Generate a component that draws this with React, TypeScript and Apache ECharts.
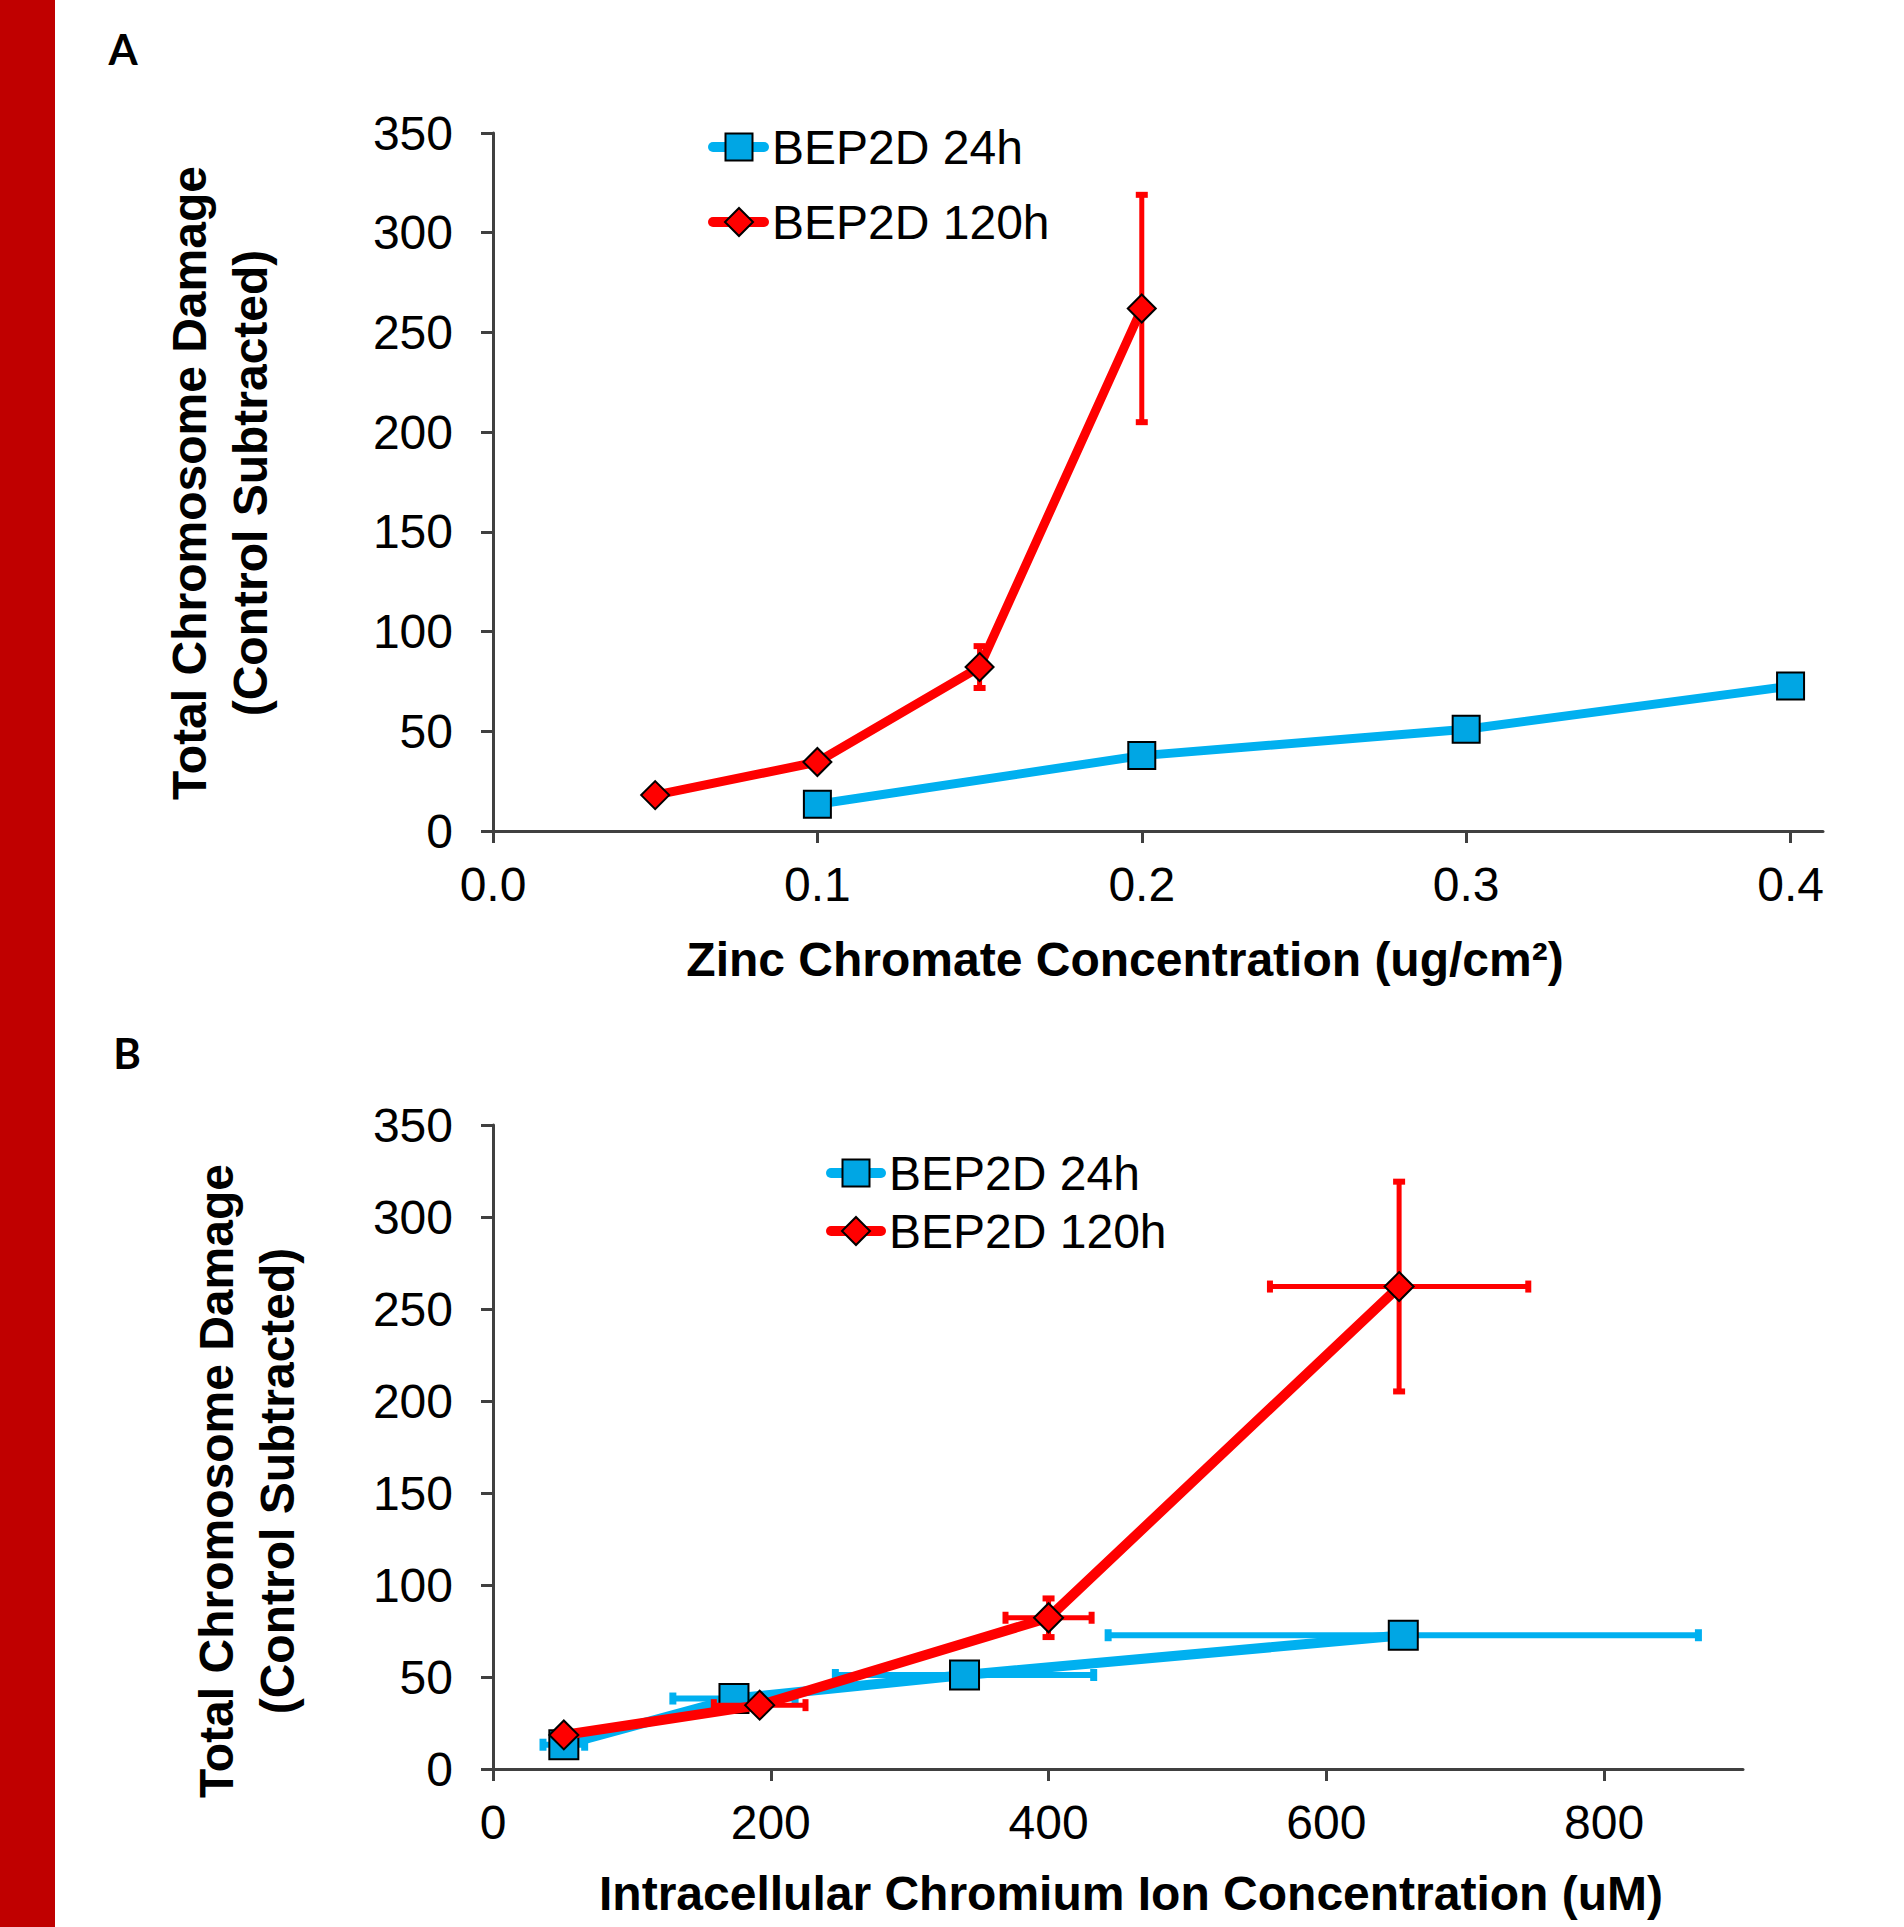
import React, { useEffect, useRef } from "react";
import * as echarts from "echarts";

// ---------- data ----------
const SERIES_24H = "BEP2D 24h";
const SERIES_120H = "BEP2D 120h";

const yTicks = [0, 50, 100, 150, 200, 250, 300, 350];
const xTicksA = [0, 0.1, 0.2, 0.3, 0.4];
const xTicksB = [0, 200, 400, 600, 800];

// Panel A: Zinc chromate concentration (ug/cm2)
const zincBlueX = [0.1, 0.2, 0.3, 0.4];
const zincBlueY = [13.4, 37.8, 51.0, 72.7];
const zincRedX = [0.05, 0.1, 0.15, 0.2];
const zincRedY = [18.0, 34.6, 82.2, 262.0];
const zincRedYErr = [0, 3, 10.5, 57];

// Panel B: Intracellular chromium ion concentration (uM)
const ionBlueX = [51, 173.5, 339.5, 655.4];
const ionBlueY = [13.2, 38.3, 51.1, 72.7];
const ionBlueXErr = [15, 44, 93, 212.5];
const ionRedX = [51, 192, 400, 652.4];
const ionRedY = [18.5, 34.7, 82.2, 262.2];
const ionRedXErr = [0, 33, 31, 93];
const ionRedYErr = [0, 3, 10.5, 57];

// ---------- styles ----------
const BLUE = "#00B0F0";
const BLUE_MARK = "#00A6E4";
const RED = "#FF0000";
const AXIS = "#404040";
const FONT = "Liberation Sans, Arial, sans-serif";
const FS = 48;

function zip(xs: number[], ys: number[]) {
  return xs.map((x, i) => [x, ys[i]]);
}

function errData(xs: number[], ys: number[], exs: number[] | null, eys: number[] | null) {
  return xs.map((x, i) => [x, ys[i], exs ? exs[i] : 0, eys ? eys[i] : 0]);
}

function errRender(color: string, lw: number, cap: number) {
  return (params: any, api: any) => {
    const x = api.value(0);
    const y = api.value(1);
    const ex = api.value(2);
    const ey = api.value(3);
    const children: any[] = [];
    const st = { stroke: color, lineWidth: lw, lineCap: "butt" };
    const capSt = { stroke: color, lineWidth: lw + 1, lineCap: "butt" };
    if (ey > 0) {
      const t = api.coord([x, y + ey]);
      const b = api.coord([x, y - ey]);
      children.push({ type: "line", shape: { x1: t[0], y1: t[1], x2: b[0], y2: b[1] }, style: st });
      children.push({ type: "line", shape: { x1: t[0] - cap / 2, y1: t[1], x2: t[0] + cap / 2, y2: t[1] }, style: capSt });
      children.push({ type: "line", shape: { x1: b[0] - cap / 2, y1: b[1], x2: b[0] + cap / 2, y2: b[1] }, style: capSt });
    }
    if (ex > 0) {
      const l = api.coord([x - ex, y]);
      const r = api.coord([x + ex, y]);
      children.push({ type: "line", shape: { x1: l[0], y1: l[1], x2: r[0], y2: r[1] }, style: st });
      children.push({ type: "line", shape: { x1: l[0], y1: l[1] - cap / 2, x2: l[0], y2: l[1] + cap / 2 }, style: capSt });
      children.push({ type: "line", shape: { x1: r[0], y1: r[1] - cap / 2, x2: r[0], y2: r[1] + cap / 2 }, style: capSt });
    }
    return { type: "group", children };
  };
}

function yAxisCfg(gridIndex: number) {
  return {
    type: "value",
    gridIndex,
    min: yTicks[0],
    max: yTicks[yTicks.length - 1],
    interval: 50,
    splitLine: { show: false },
    axisLine: { show: true, lineStyle: { color: AXIS, width: 3 } },
    axisTick: { show: true, inside: false, length: 12, lineStyle: { color: AXIS, width: 3 } },
    axisLabel: { color: "#000", fontSize: FS, fontFamily: FONT, margin: 40 },
  };
}

function xAxisCfg(gridIndex: number, max: number, ticks: number[], fmt: (v: number) => string) {
  return {
    type: "value",
    gridIndex,
    min: 0,
    max,
    splitLine: { show: false },
    axisLine: { show: true, onZero: false, lineStyle: { color: AXIS, width: 3 } },
    axisTick: { show: true, inside: false, length: 12, customValues: ticks, lineStyle: { color: AXIS, width: 3 } },
    axisLabel: {
      color: "#000",
      fontSize: FS,
      fontFamily: FONT,
      margin: 29,
      customValues: ticks,
      formatter: (v: number) => fmt(v),
    },
  };
}

function lineSeries(name: string, xi: number, yi: number, data: number[][], color: string, markColor: string, symbol: string, size: number, lw: number, z: number) {
  return {
    type: "line",
    name,
    xAxisIndex: xi,
    yAxisIndex: yi,
    data,
    z,
    symbol,
    symbolSize: size,
    showSymbol: true,
    lineStyle: { color, width: lw, cap: "round", join: "round" },
    itemStyle: { color: markColor, borderColor: "#000", borderWidth: 2 },
    emphasis: { disabled: true },
  };
}

// Legend entry drawn as graphic: line with round caps, marker, label
function legendEntry(x0: number, x1: number, cy: number, mx: number, tx: number, color: string, markColor: string, kind: "square" | "diamond", label: string) {
  const h = 13.5;
  const marker =
    kind === "square"
      ? { type: "rect", shape: { x: mx - h, y: cy - h, width: 2 * h, height: 2 * h }, style: { fill: markColor, stroke: "#000", lineWidth: 2 } }
      : {
          type: "polygon",
          shape: { points: [[mx, cy - 14], [mx + 14, cy], [mx, cy + 14], [mx - 14, cy]] },
          style: { fill: markColor, stroke: "#000", lineWidth: 2 },
        };
  return [
    { type: "line", shape: { x1: x0, y1: cy, x2: x1, y2: cy }, style: { stroke: color, lineWidth: 10, lineCap: "round" } },
    marker,
    { type: "text", x: tx, y: cy, style: { text: label, font: `${FS}px ${FONT}`, fill: "#000", textAlign: "left", textVerticalAlign: "middle" } },
  ];
}

export default function App() {
  const ref = useRef<HTMLDivElement>(null);

  useEffect(() => {
    if (!ref.current) return;
    const chart = echarts.init(ref.current, null, { renderer: "svg" });

    const yTitle = "Total Chromosome Damage\n(Control Subtracted)";

    const option: any = {
      animation: false,
      backgroundColor: "#fff",
      grid: [
        { left: 493, top: 133, width: 1330, height: 698, containLabel: false },
        { left: 493, top: 1125, width: 1250, height: 644, containLabel: false },
      ],
      xAxis: [
        xAxisCfg(0, 0.41, xTicksA, (v) => v.toFixed(1)),
        xAxisCfg(1, 900, xTicksB, (v) => String(Math.round(v))),
      ],
      yAxis: [yAxisCfg(0), yAxisCfg(1)],
      graphic: [
        { type: "rect", shape: { x: 0, y: 0, width: 55, height: 1927 }, style: { fill: "#C00000" }, silent: true },
        { type: "text", x: 123, y: 49, style: { text: "A", font: "bold 42px Lato, sans-serif", fill: "#000", textAlign: "center", textVerticalAlign: "middle" } },
        { type: "text", x: 127, y: 1053, style: { text: "B", font: "bold 42px Lato, sans-serif", fill: "#000", textAlign: "center", textVerticalAlign: "middle" } },
        {
          type: "text", x: 220, y: 483, rotation: Math.PI / 2,
          style: { text: yTitle, font: `bold ${FS}px ${FONT}`, lineHeight: 61, fill: "#000", textAlign: "center", textVerticalAlign: "middle" },
        },
        {
          type: "text", x: 247, y: 1481, rotation: Math.PI / 2,
          style: { text: yTitle, font: `bold ${FS}px ${FONT}`, lineHeight: 61, fill: "#000", textAlign: "center", textVerticalAlign: "middle" },
        },
        { type: "text", x: 1125, y: 959, style: { text: "Zinc Chromate Concentration (ug/cm²)", font: `bold ${FS}px ${FONT}`, fill: "#000", textAlign: "center", textVerticalAlign: "middle" } },
        { type: "text", x: 1131, y: 1893, style: { text: "Intracellular Chromium Ion Concentration (uM)", font: `bold ${FS}px ${FONT}`, fill: "#000", textAlign: "center", textVerticalAlign: "middle" } },
        // Legend A
        ...legendEntry(713, 764, 147, 739, 772, BLUE, BLUE_MARK, "square", SERIES_24H),
        ...legendEntry(713, 764, 222, 739, 772, RED, RED, "diamond", SERIES_120H),
        // Legend B
        ...legendEntry(831, 881, 1173, 856, 889, BLUE, BLUE_MARK, "square", SERIES_24H),
        ...legendEntry(831, 881, 1231, 856, 889, RED, RED, "diamond", SERIES_120H),
      ],
      series: [
        // Panel A
        lineSeries(SERIES_24H, 0, 0, zip(zincBlueX, zincBlueY), BLUE, BLUE_MARK, "rect", 27, 9, 3),
        {
          type: "custom", xAxisIndex: 0, yAxisIndex: 0, z: 4,
          data: errData(zincRedX, zincRedY, null, zincRedYErr),
          renderItem: errRender(RED, 5, 12), silent: true,
        },
        lineSeries(SERIES_120H, 0, 0, zip(zincRedX, zincRedY), RED, RED, "diamond", 28, 9, 5),
        // Panel B
        {
          type: "custom", xAxisIndex: 1, yAxisIndex: 1, z: 2,
          data: errData(ionBlueX, ionBlueY, ionBlueXErr, null),
          renderItem: errRender(BLUE, 6, 12), silent: true,
        },
        lineSeries(SERIES_24H, 1, 1, zip(ionBlueX, ionBlueY), BLUE, BLUE_MARK, "rect", 29, 10, 3),
        {
          type: "custom", xAxisIndex: 1, yAxisIndex: 1, z: 4,
          data: errData(ionRedX, ionRedY, ionRedXErr, ionRedYErr),
          renderItem: errRender(RED, 5, 12), silent: true,
        },
        lineSeries(SERIES_120H, 1, 1, zip(ionRedX, ionRedY), RED, RED, "diamond", 29, 10, 5),
      ],
    };

    chart.setOption(option);
    return () => chart.dispose();
  }, []);

  return (
    <div
      ref={ref}
      style={{ position: "absolute", left: 0, top: 0, width: 1904, height: 1927, background: "#fff" }}
    />
  );
}
